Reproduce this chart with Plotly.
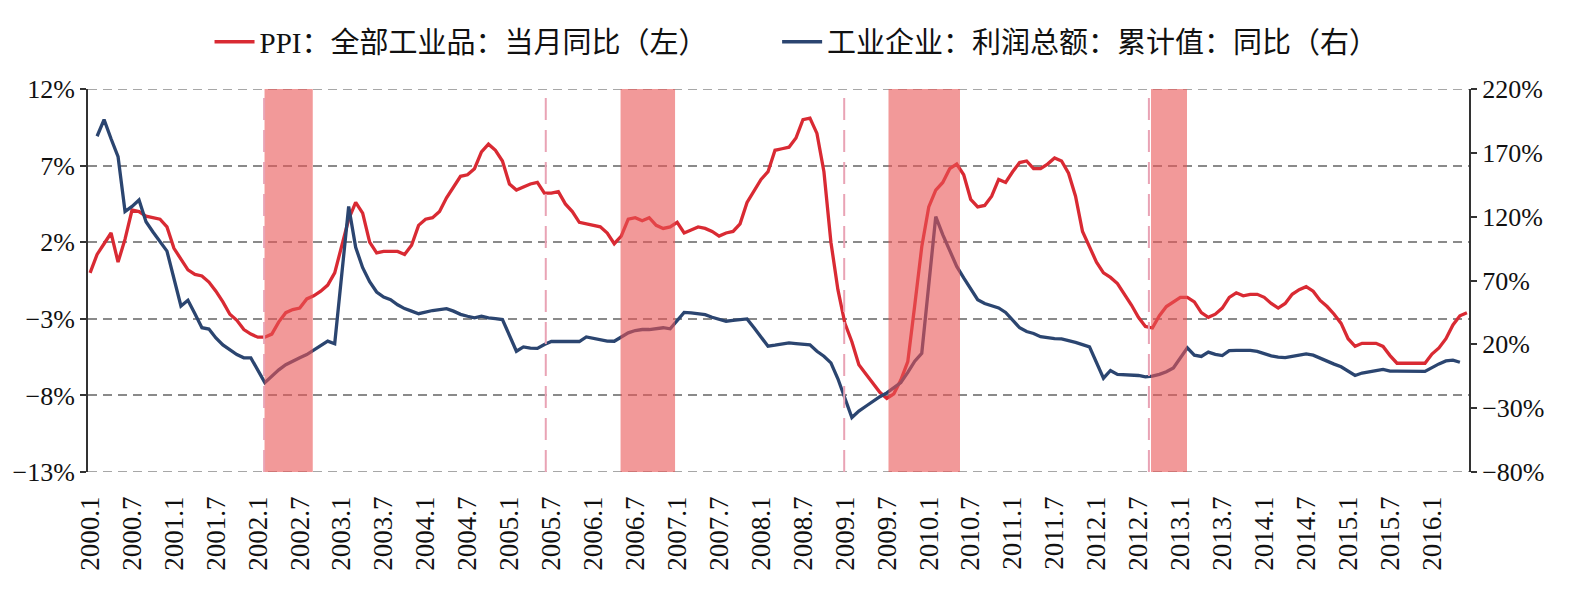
import plotly.graph_objects as go

# ---- data (monthly, 2000.1 .. 2016.6) ----
years = list(range(2000, 2017))
months = [f"{y}.{m}" for y in years for m in range(1, 13)][:198]

ppi_2000_2003 = [0.0, 1.2, 1.9, 2.6, 0.7, 2.2, 4.1, 4.0, 3.7, 3.6, 3.5, 3.0,
                 1.6, 0.9, 0.2, -0.1, -0.2, -0.6, -1.2, -1.9, -2.7, -3.1, -3.7, -4.0,
                 -4.2, -4.2, -4.0, -3.2, -2.6, -2.4, -2.3, -1.7, -1.5, -1.2, -0.8, 0.0,
                 1.7, 3.5, 4.6, 3.9, 2.0, 1.3, 1.4, 1.4, 1.4, 1.2, 1.8, 3.1]
ppi_2004_2007 = [3.5, 3.6, 4.0, 4.9, 5.6, 6.3, 6.4, 6.8, 7.9, 8.4, 8.0, 7.3,
                 5.8, 5.4, 5.6, 5.8, 5.9, 5.2, 5.2, 5.3, 4.5, 4.0, 3.3, 3.2,
                 3.1, 3.0, 2.6, 1.9, 2.4, 3.5, 3.6, 3.4, 3.6, 3.1, 2.9, 3.0,
                 3.3, 2.6, 2.8, 3.0, 2.9, 2.7, 2.4, 2.6, 2.7, 3.2, 4.6, 5.4]
ppi_2008_2011 = [6.1, 6.6, 8.0, 8.1, 8.2, 8.8, 10.0, 10.1, 9.1, 6.6, 2.0, -1.1,
                 -3.3, -4.5, -6.0, -6.6, -7.2, -7.8, -8.2, -7.9, -7.0, -5.8, -2.1, 1.7,
                 4.3, 5.4, 5.9, 6.8, 7.1, 6.4, 4.8, 4.3, 4.4, 5.0, 6.1, 5.9,
                 6.6, 7.2, 7.3, 6.8, 6.8, 7.1, 7.5, 7.3, 6.5, 5.0, 2.7, 1.7]
ppi_2012_2016 = [0.7, 0.0, -0.3, -0.7, -1.4, -2.1, -2.9, -3.5, -3.6, -2.8, -2.2, -1.9,
                 -1.6, -1.6, -1.9, -2.6, -2.9, -2.7, -2.3, -1.6, -1.3, -1.5, -1.4, -1.4,
                 -1.6, -2.0, -2.3, -2.0, -1.4, -1.1, -0.9, -1.2, -1.8, -2.2, -2.7, -3.3,
                 -4.3, -4.8, -4.6, -4.6, -4.6, -4.8, -5.4, -5.9, -5.9, -5.9, -5.9, -5.9,
                 -5.3, -4.9, -4.3, -3.4, -2.8, -2.6]
ppi = ppi_2000_2003 + ppi_2004_2007 + ppi_2008_2011 + ppi_2012_2016

N = None
profit_2000_2003 = [N, 183, 196, 181, 167, 124, 128, 133, 116, 108, 101, 93,
                    N, 50, 54.5, 44, 33, 32, 25, 19.5, 15.5, 12, 9.5, 9.4,
                    N, -10, -5, 0, 4, 7, 9.5, 12, 15.5, 18.5, 22.5, 20.5,
                    N, 128, 96, 80, 69, 61, 57, 55, 51, 48, 46, 44]
profit_2004_2007 = [N, 46.5, 47, 48, 46, 43.5, 42, 40.7, 42, 40.7, 40.2, 39.4,
                    N, 14.6, 18, 17, 16.8, 19.8, 22.2, 22.2, 22.2, 22.2, 22.2, 25.8,
                    N, 23.5, 22.5, 22.4, 25.8, 29, 30.8, 31.6, 31.6, 32.4, 33, 32.2,
                    N, 45, 44.6, 44.1, 43.3, 41.2, 39.4, 38.1, 38.8, 39.4, 39.9, 33]
profit_2008_2011 = [N, 18.5, 19.3, 20.4, 21.2, 20.6, 20.2, 19.6, 14.6, 10.7, 5.5, -7,
                    N, -37.3, -32.3, -28.5, -24.5, -21, -18, -14, -10, -2, 6.8, 13,
                    N, 120, 106, 93, 81, 72, 63, 55, 52, 50, 48.5, 45,
                    N, 33, 30, 28.5, 26, 25, 24.5, 24.2, 23, 21.5, 19.8, 18]
profit_2012_2016 = [N, -6.5, -0.5, -3.6, -4, -4.4, -4.4, -5.5, -4.9, -3.5, -1.5, 1.5,
                    N, 17.2, 11.5, 10.5, 13.9, 12.1, 11.2, 15, 15.2, 15.2, 15.2, 14.5,
                    N, 11, 10, 9.6, 10.5, 11.5, 12.5, 11.5, 9, 6.5, 4.5, 2.4,
                    N, -4.4, -2.5, -1.8, -0.5, 0.3, -1, -1, -1, -1, -1, -1.2,
                    N, 4.7, 7, 7.6, 6]
profit = profit_2000_2003 + profit_2004_2007 + profit_2008_2011 + profit_2012_2016

tick_labels = [f"{y}.{m}" for y in range(2000, 2017) for m in (1, 7)][:33]
left_ticks = [-13, -8, -3, 2, 7, 12]
left_labels = ["−13%", "−8%", "−3%", "2%", "7%", "12%"]
right_ticks = [-80, -30, 20, 70, 120, 170, 220]
right_labels = ["−80%", "−30%", "20%", "70%", "120%", "170%", "220%"]

# shaded periods and marker lines (category positions)
shade_periods = [(24.96, 31.86), (75.9, 83.7), (114.24, 124.47), (151.8, 156.95)]
marker_lines = [24.9, 65.2, 107.9, 151.5]

names = ["PPI：全部工业品：当月同比（左）", "工业企业：利润总额：累计值：同比（右）"]

serif = "Liberation Serif, Noto Sans CJK SC, serif"
grid_style = dict(color="#8a8a8a", width=1.5, dash="9px,6px")

fig = go.Figure()
fig.add_trace(go.Scatter(x=months, y=ppi, name=names[0], mode="lines",
                         line=dict(color="#D92A33", width=3.3), yaxis="y",
                         legend="legend"))
fig.add_trace(go.Scatter(x=months[:len(profit)], y=profit, name=names[1], mode="lines",
                         connectgaps=True,
                         line=dict(color="#2B4570", width=3.3), yaxis="y2",
                         legend="legend2"))

# edge grid lines (top and bottom)
for yv in (left_ticks[0], left_ticks[-1]):
    fig.add_shape(type="line", xref="paper", yref="y", x0=0, x1=1, y0=yv, y1=yv,
                  line=grid_style, layer="below")

for a, b in shade_periods:
    fig.add_shape(type="rect", xref="x", yref="paper", x0=a, x1=b, y0=0, y1=1,
                  fillcolor="rgba(233,85,85,0.6)", line=dict(width=0), layer="above")
for xv in marker_lines:
    fig.add_shape(type="line", xref="x", yref="paper", x0=xv, x1=xv, y0=0, y1=1,
                  line=dict(color="#E9A3B5", width=2, dash="22px,10px"), layer="above")

fig.update_layout(
    width=1586, height=595,
    margin=dict(l=86, r=117, t=89, b=123),
    paper_bgcolor="white", plot_bgcolor="white",
    font=dict(family=serif, color="#111", size=26),
    showlegend=True,
    legend=dict(orientation="h", x=0.088, xanchor="left", y=1.123, yanchor="middle",
                yref="paper", font=dict(size=29, family=serif), bgcolor="rgba(0,0,0,0)",
                itemwidth=40),
    legend2=dict(orientation="h", x=0.499, xanchor="left", y=1.123, yanchor="middle",
                 yref="paper", font=dict(size=29, family=serif), bgcolor="rgba(0,0,0,0)",
                 itemwidth=40),
    xaxis=dict(type="category", range=[-0.3, 197.3], tickmode="array",
               tickvals=tick_labels, ticktext=tick_labels, tickangle=-90,
               tickfont=dict(size=27, family=serif), showgrid=False, showline=False,
               ticks="", zeroline=False, ticklabelstandoff=18),
    yaxis=dict(range=[-13, 12], tickmode="array", tickvals=left_ticks, ticktext=left_labels,
               showgrid=True, gridcolor="#8a8a8a", gridwidth=1.5, griddash="9px,6px",
               showline=True, linecolor="#333", linewidth=2, ticks="outside",
               ticklen=6, tickwidth=2, tickcolor="#333", zeroline=False,
               tickfont=dict(size=26, family=serif)),
    yaxis2=dict(range=[-80, 220], tickmode="array", tickvals=right_ticks, ticktext=right_labels,
                overlaying="y", side="right", showgrid=False,
                showline=True, linecolor="#333", linewidth=2, ticks="outside",
                ticklen=6, tickwidth=2, tickcolor="#333", zeroline=False,
                tickfont=dict(size=26, family=serif)),
)

fig.write_html("out.html")
